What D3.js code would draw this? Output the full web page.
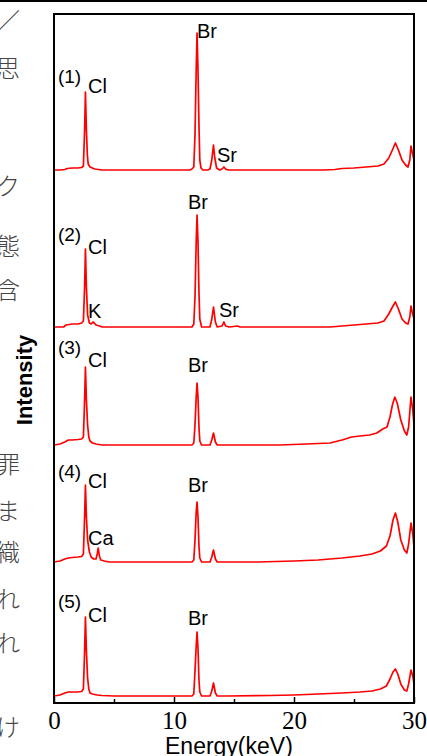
<!DOCTYPE html>
<html>
<head>
<meta charset="utf-8">
<script src="https://cdn.jsdelivr.net/npm/d3@7"></script>
<style>
  body { margin: 0; background: #fff; overflow: hidden; }
  svg { display: block; }
  .lbl { font-family: "Liberation Sans", Arial, sans-serif; font-size: 20px; fill: #000; }
  .tick text { font-family: "Liberation Serif", "Times New Roman", serif; font-size: 25px; fill: #000; }
  .side { font-family: "Noto Sans CJK JP", sans-serif; font-weight: 300; font-size: 24px; fill: #444; }
</style>
</head>
<body>
<div id="chartDiv"></div>
<script>
// energies in keV, intensities in counts above each spectrum's own baseline
var spectrum1 = [[0,0],[0.5,0],[0.9,1],[1.1,3],[1.5,4],[2.0,4],[2.3,5],[2.45,8],[2.55,80],[2.62,156],[2.7,80],[2.78,30],[2.85,12],[3.0,6],[3.2,4],[3.4,2],[3.7,1],[4.0,0],[11.3,0],[11.5,2],[11.65,6],[11.75,70],[11.85,200],[11.92,274],[12.0,200],[12.08,90],[12.15,20],[12.25,4],[12.4,0],[12.8,0],[13.0,2],[13.15,20],[13.29,50],[13.4,24],[13.55,4],[13.8,0],[14.0,2],[14.16,6],[14.3,2],[14.5,0],[22.5,0],[23.4,1],[24,3],[25,4],[26,6],[27,8],[27.5,12],[27.9,24],[28.2,40],[28.45,54],[28.7,40],[29.0,20],[29.3,10],[29.5,6],[29.65,20],[29.75,48],[29.85,36],[30,20]];
var spectrum2 = [[0,0],[0.8,0],[1.0,4],[1.5,6],[2.0,6],[2.3,8],[2.45,12],[2.55,80],[2.62,156],[2.7,80],[2.8,24],[2.95,8],[3.1,6],[3.25,10],[3.35,8],[3.5,4],[3.8,2],[4.0,0],[11.5,0],[11.65,6],[11.75,60],[11.85,170],[11.92,224],[12.0,170],[12.08,70],[12.15,16],[12.3,0],[13.0,0],[13.15,16],[13.29,40],[13.45,10],[13.6,0],[14.0,2],[14.16,10],[14.3,2],[14.6,0],[15.3,2],[15.5,0],[23,0],[24,2],[25,4],[26,6],[27,8],[27.5,12],[27.9,26],[28.2,40],[28.45,50],[28.7,36],[29.0,16],[29.3,8],[29.5,6],[29.65,20],[29.75,42],[29.85,30],[30,16]];
var spectrum3 = [[0,0],[0.5,2],[0.9,6],[1.2,10],[1.5,10],[2.0,11],[2.3,12],[2.45,16],[2.55,90],[2.62,156],[2.7,90],[2.8,40],[2.9,16],[3.0,8],[3.2,4],[3.5,2],[4.0,0],[11.5,0],[11.65,4],[11.75,40],[11.85,96],[11.92,124],[12.0,96],[12.08,36],[12.15,8],[12.3,0],[13.0,0],[13.15,10],[13.29,24],[13.45,6],[13.6,0],[18.8,0],[21,2],[23,4],[24,10],[24.8,16],[25.5,18],[26.3,20],[26.9,24],[27.4,32],[27.75,36],[28.0,56],[28.2,80],[28.4,96],[28.6,84],[28.9,50],[29.2,28],[29.4,20],[29.55,36],[29.75,96],[29.9,70],[30,40]];
var spectrum4 = [[0,0],[0.5,2],[0.9,6],[1.2,8],[1.5,9],[2.0,10],[2.3,11],[2.45,16],[2.55,90],[2.62,154],[2.7,90],[2.8,44],[2.95,20],[3.1,10],[3.3,6],[3.5,6],[3.6,16],[3.69,28],[3.78,12],[3.9,4],[4.2,2],[4.6,0],[11.5,0],[11.65,4],[11.75,44],[11.85,100],[11.92,120],[12.0,90],[12.08,32],[12.15,8],[12.3,0],[13.0,0],[13.15,10],[13.29,24],[13.45,6],[13.6,0],[17,0],[20,2],[22,4],[24,8],[25.5,12],[26.5,16],[27.2,22],[27.7,32],[28.0,52],[28.25,84],[28.45,98],[28.65,80],[28.9,44],[29.2,24],[29.4,18],[29.55,36],[29.75,78],[29.9,56],[30,30]];
var spectrum5 = [[0,0],[0.5,2],[0.9,6],[1.2,8],[1.5,8],[2.0,8],[2.3,9],[2.45,14],[2.55,90],[2.62,158],[2.7,90],[2.8,36],[2.9,14],[3.0,6],[3.2,4],[3.6,2],[4.0,1],[5,0],[11.5,0],[11.65,4],[11.75,50],[11.85,100],[11.92,128],[12.0,96],[12.08,32],[12.15,8],[12.3,0],[13.0,0],[13.15,10],[13.29,26],[13.45,6],[13.6,0],[14.5,0],[18,1],[20,2],[22,4],[24,6],[25.5,8],[26.5,10],[27.2,14],[27.7,20],[28.0,34],[28.25,48],[28.45,54],[28.65,44],[28.9,24],[29.2,12],[29.4,10],[29.55,24],[29.75,52],[29.9,40],[30,24]];
var spectra = [spectrum1, spectrum2, spectrum3, spectrum4, spectrum5];
var offsets = [1066, 752, 516, 282, 14];   // vertical stacking offset of each spectrum

var sampleLabels = ["(1)", "(2)", "(3)", "(4)", "(5)"];
var sampleLabelCounts = [1240, 924, 698, 450, 190];
// element annotations: [text, energy anchor, counts anchor]
var elementLabels = [
  ["Cl", 2.83, 1220], ["Br", 11.92, 1330], ["Sr", 13.58, 1082],
  ["Cl", 2.83, 898], ["K", 2.83, 770], ["Br", 11.17, 988], ["Sr", 13.75, 772],
  ["Cl", 2.83, 672], ["Br", 11.17, 662],
  ["Cl", 2.83, 430], ["Ca", 2.83, 316], ["Br", 11.17, 422],
  ["Cl", 2.83, 162], ["Br", 11.17, 156]
];
var majorTicks = [0, 10, 20, 30];
var minorTicks = [5, 15, 25];

// cut-off column of body text at the left edge of the scanned page
var sideChars = ["／", "思", "ク", "態", "含", "罪", "ま", "織", "れ", "れ", "け"];
var sideCharY = [30, 77, 195, 255, 299, 473, 520, 561, 608, 652, 736];

var W = 427, H = 756;
var plotLeft = 54, plotRight = 414, plotTop = 14, plotBottom = 703;

var svg = d3.select('#chartDiv').append('svg')
  .attr('width', W).attr('height', H);

var x = d3.scaleLinear().domain([0, 30]).range([plotLeft, plotRight]);
var y = d3.scaleLinear().domain([0, 1380]).range([plotBottom, plotTop - 1]);

// page rule at the top
svg.append('rect').attr('x', 0).attr('y', 0).attr('width', W).attr('height', 2).attr('fill', '#000');

svg.selectAll('text.side').data(sideChars).enter().append('text')
  .attr('class', 'side')
  .attr('x', 20).attr('y', function (d, i) { return sideCharY[i]; })
  .attr('text-anchor', 'end')
  .text(function (d) { return d; });

var line = d3.line()
  .x(function (d) { return x(d[0]); });

svg.selectAll('path.spec').data(spectra).enter().append('path')
  .attr('class', 'spec')
  .attr('fill', 'none')
  .attr('stroke', '#ff0000')
  .attr('stroke-width', 1.7)
  .attr('stroke-linejoin', 'round')
  .attr('d', function (d, i) {
    return line.y(function (p) { return y(p[1] + offsets[i]); })(d);
  });

// frame
svg.append('rect')
  .attr('x', plotLeft).attr('y', plotTop)
  .attr('width', plotRight - plotLeft).attr('height', plotBottom - plotTop)
  .attr('fill', 'none').attr('stroke', '#000').attr('stroke-width', 2);

var axis = svg.append('g').attr('transform', 'translate(0,' + plotBottom + ')')
  .call(d3.axisBottom(x).tickValues(majorTicks).tickSize(-6).tickPadding(8).tickFormat(d3.format('d')));
axis.select('.domain').remove();
axis.selectAll('.tick line').attr('stroke-width', 1.5);

var minor = svg.append('g').attr('transform', 'translate(0,' + plotBottom + ')')
  .call(d3.axisBottom(x).tickValues(minorTicks).tickSize(-4).tickFormat(''));
minor.select('.domain').remove();
minor.selectAll('.tick line').attr('stroke-width', 1.5);

svg.append('text').attr('class', 'lbl')
  .attr('x', 165).attr('y', 754)
  .style('font-size', '23px')
  .text('Energy(keV)');

svg.append('text').attr('class', 'lbl')
  .attr('transform', 'translate(32,380) rotate(-90)')
  .attr('text-anchor', 'middle')
  .style('font-size', '22px').style('font-weight', 'bold')
  .text('Intensity');

svg.selectAll('text.sample').data(sampleLabels).enter().append('text')
  .attr('class', 'lbl sample')
  .attr('x', x(0.33)).attr('y', function (d, i) { return y(sampleLabelCounts[i]); })
  .style('font-size', '19px')
  .text(function (d) { return d; });

svg.selectAll('text.elem').data(elementLabels).enter().append('text')
  .attr('class', 'lbl elem')
  .attr('x', function (d) { return x(d[1]); })
  .attr('y', function (d) { return y(d[2]); })
  .text(function (d) { return d[0]; });
</script>
</body>
</html>
